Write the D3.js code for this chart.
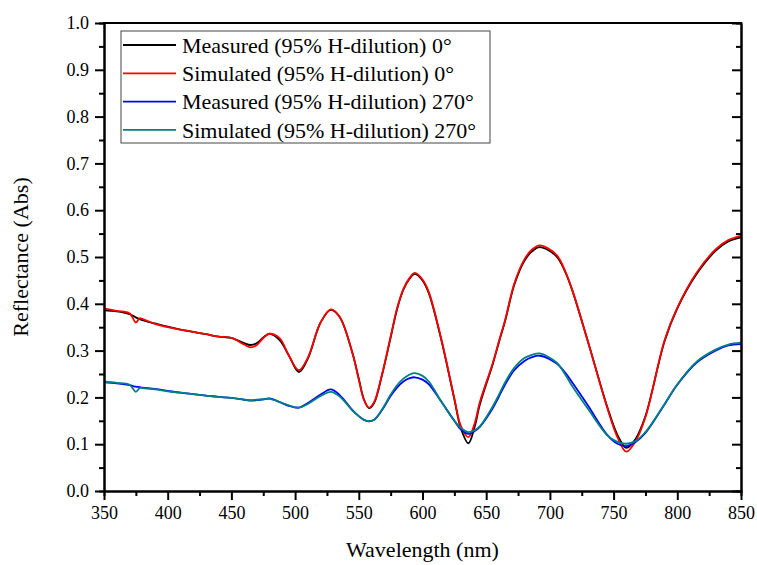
<!DOCTYPE html>
<meta charset="utf-8">
<style>
body { margin: 0; background: #fff; }
text { font-family: "Liberation Serif", "Times New Roman", serif; fill: #000; }
</style>
<body>
<div id="chart"></div>
<script src="https://d3js.org/d3.v7.min.js"></script>
<script>
// wavelength grid (nm) shared by all four series
var wavelength = [350, 360, 370, 375, 378, 380, 390, 400, 410, 420, 430, 440, 450, 460, 465, 470, 475, 480, 488, 495, 503, 510, 520, 528, 535, 545, 550, 554, 558, 562, 568, 575, 580, 585, 590, 594, 600, 605, 615, 625, 630, 636, 641, 645, 655, 660, 665, 672, 680, 686, 692, 705, 712, 718, 730, 745, 753, 760, 767, 775, 790, 800, 815, 830, 840, 850];

var measured0 = [0.386, 0.384, 0.378, 0.371, 0.367, 0.365, 0.358, 0.351, 0.345, 0.340, 0.335, 0.330, 0.327, 0.316, 0.312, 0.316, 0.328, 0.336, 0.322, 0.290, 0.254, 0.283, 0.360, 0.387, 0.372, 0.295, 0.240, 0.196, 0.177, 0.188, 0.245, 0.328, 0.388, 0.430, 0.454, 0.464, 0.450, 0.422, 0.320, 0.196, 0.135, 0.102, 0.138, 0.185, 0.270, 0.318, 0.365, 0.440, 0.492, 0.512, 0.521, 0.502, 0.468, 0.425, 0.318, 0.180, 0.120, 0.092, 0.110, 0.160, 0.320, 0.390, 0.463, 0.513, 0.533, 0.542];

var simulated0 = [0.390, 0.385, 0.380, 0.360, 0.369, 0.368, 0.357, 0.350, 0.345, 0.340, 0.335, 0.330, 0.327, 0.313, 0.307, 0.312, 0.327, 0.336, 0.326, 0.290, 0.258, 0.285, 0.360, 0.388, 0.372, 0.295, 0.238, 0.195, 0.178, 0.190, 0.247, 0.330, 0.390, 0.432, 0.456, 0.466, 0.452, 0.425, 0.322, 0.198, 0.140, 0.115, 0.145, 0.190, 0.272, 0.320, 0.367, 0.443, 0.495, 0.516, 0.525, 0.505, 0.470, 0.426, 0.318, 0.178, 0.115, 0.084, 0.105, 0.158, 0.322, 0.392, 0.466, 0.516, 0.536, 0.545];

var measured270 = [0.232, 0.230, 0.226, 0.223, 0.222, 0.221, 0.218, 0.214, 0.210, 0.207, 0.204, 0.201, 0.199, 0.195, 0.193, 0.194, 0.196, 0.198, 0.190, 0.182, 0.178, 0.188, 0.206, 0.217, 0.205, 0.173, 0.160, 0.152, 0.149, 0.152, 0.172, 0.203, 0.221, 0.234, 0.241, 0.243, 0.238, 0.228, 0.190, 0.150, 0.132, 0.122, 0.128, 0.137, 0.176, 0.202, 0.228, 0.258, 0.278, 0.286, 0.289, 0.273, 0.253, 0.230, 0.182, 0.120, 0.101, 0.096, 0.104, 0.124, 0.185, 0.227, 0.274, 0.300, 0.311, 0.314];

var simulated270 = [0.234, 0.231, 0.227, 0.212, 0.220, 0.220, 0.217, 0.213, 0.210, 0.207, 0.204, 0.201, 0.199, 0.195, 0.194, 0.195, 0.196, 0.197, 0.190, 0.183, 0.178, 0.186, 0.203, 0.212, 0.202, 0.172, 0.160, 0.152, 0.149, 0.152, 0.173, 0.206, 0.226, 0.240, 0.249, 0.252, 0.246, 0.234, 0.190, 0.150, 0.135, 0.126, 0.130, 0.138, 0.180, 0.206, 0.233, 0.263, 0.284, 0.291, 0.294, 0.275, 0.249, 0.222, 0.175, 0.119, 0.105, 0.101, 0.106, 0.126, 0.186, 0.228, 0.276, 0.302, 0.313, 0.317];

var seriesNames = ["Measured (95% H-dilution) 0\u00b0", "Simulated (95% H-dilution) 0\u00b0",
                   "Measured (95% H-dilution) 270\u00b0", "Simulated (95% H-dilution) 270\u00b0"];
var seriesColors = ["#000000", "#ff0000", "#0000ff", "#008080"];
var xTicks = [350, 400, 450, 500, 550, 600, 650, 700, 750, 800, 850];
var yTicks = [0.0, 0.1, 0.2, 0.3, 0.4, 0.5, 0.6, 0.7, 0.8, 0.9, 1.0];

var width = 757, height = 565;
var pLeft = 104, pRight = 741, pTop = 23, pBottom = 491;

var svg = d3.select("#chart").append("svg")
    .attr("width", width)
    .attr("height", height);

var x = d3.scaleLinear().domain([350, 850]).range([pLeft, pRight]);
var y = d3.scaleLinear().domain([0, 1]).range([pBottom, pTop]);

var allSeries = [measured0, simulated0, measured270, simulated270];

// curves first, frame on top
var line = d3.line()
    .x(function(d) { return x(d[0]); })
    .y(function(d) { return y(d[1]); })
    .curve(d3.curveCatmullRom.alpha(0.5));

svg.append("g").selectAll("path")
  .data(allSeries)
  .enter().append("path")
    .attr("fill", "none")
    .attr("stroke", function(d, i) { return seriesColors[i]; })
    .attr("stroke-width", 1.8)
    .attr("d", function(vals) { return line(wavelength.map(function(w, j) { return [w, vals[j]]; })); });

// minor ticks
var xMinor = d3.range(375, 850, 50);
var yMinor = d3.range(0.05, 1, 0.1);

var axisStyle = function(g) {
  g.select(".domain").attr("stroke-width", 2);
  g.selectAll(".tick line").attr("stroke-width", 2);
  g.selectAll("text")
    .attr("font-family", "Liberation Serif, serif")
    .attr("font-size", "18px")
    .attr("fill", "#000");
};

svg.append("g")
    .attr("transform", "translate(0," + pBottom + ")")
    .call(d3.axisBottom(x).tickValues(xTicks).tickSize(9).tickSizeOuter(0).tickPadding(6))
    .call(axisStyle);
svg.append("g")
    .attr("transform", "translate(0," + pBottom + ")")
    .call(d3.axisBottom(x).tickValues(xMinor).tickSize(5).tickFormat(""))
    .call(axisStyle);

svg.append("g")
    .attr("transform", "translate(" + pLeft + ",0)")
    .call(d3.axisLeft(y).tickValues(yTicks).tickSize(9).tickSizeOuter(0).tickPadding(6).tickFormat(d3.format(".1f")))
    .call(axisStyle);
svg.append("g")
    .attr("transform", "translate(" + pLeft + ",0)")
    .call(d3.axisLeft(y).tickValues(yMinor).tickSize(5).tickFormat(""))
    .call(axisStyle);

// right side: inward ticks, no labels
svg.append("g")
    .attr("transform", "translate(" + pRight + ",0)")
    .call(d3.axisLeft(y).tickValues(yTicks).tickSize(9).tickSizeOuter(0).tickFormat(""))
    .call(axisStyle);
svg.append("g")
    .attr("transform", "translate(" + pRight + ",0)")
    .call(d3.axisLeft(y).tickValues(yMinor).tickSize(5).tickFormat(""))
    .call(axisStyle);

// top border
svg.append("line")
    .attr("x1", pLeft - 1).attr("x2", pRight + 1)
    .attr("y1", pTop).attr("y2", pTop)
    .attr("stroke", "#000").attr("stroke-width", 2);

// axis titles
svg.append("text")
    .attr("x", (pLeft + pRight) / 2)
    .attr("y", 557)
    .attr("text-anchor", "middle")
    .attr("font-size", "22px")
    .text("Wavelength (nm)");

svg.append("text")
    .attr("transform", "translate(28," + (pTop + pBottom) / 2 + ") rotate(-90)")
    .attr("text-anchor", "middle")
    .attr("font-size", "22px")
    .text("Reflectance (Abs)");

// legend
var legend = svg.append("g").attr("transform", "translate(121,31)");
legend.append("rect")
    .attr("width", 369).attr("height", 112)
    .attr("fill", "#fff")
    .attr("stroke", "#444").attr("stroke-width", 1);

var rows = legend.selectAll("g.row")
  .data(seriesNames)
  .enter().append("g")
    .attr("class", "row")
    .attr("transform", function(d, i) { return "translate(0," + (14 + i * 28.3) + ")"; });

rows.append("line")
    .attr("x1", 2).attr("x2", 55)
    .attr("stroke", function(d, i) { return seriesColors[i]; })
    .attr("stroke-width", 1.8);

rows.append("text")
    .attr("x", 61)
    .attr("dy", "0.35em")
    .attr("font-size", "22px")
    .text(function(d) { return d; });
</script>
</body>
</html>
